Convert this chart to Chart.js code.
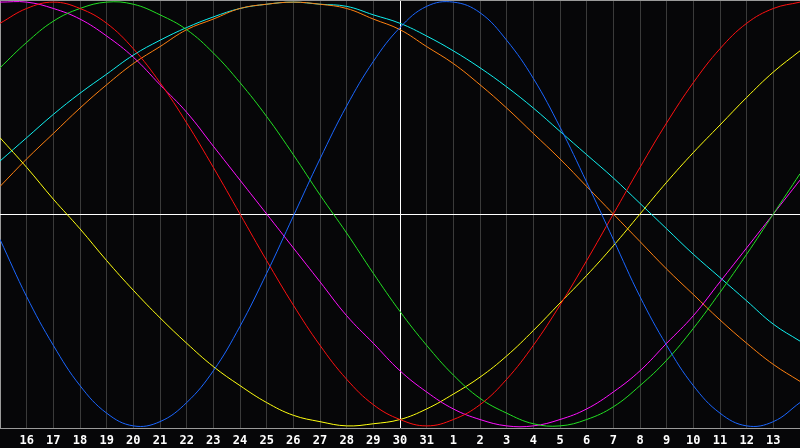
<!DOCTYPE html>
<html>
<head>
<meta charset="utf-8">
<script src="https://cdn.jsdelivr.net/npm/chart.js@4/dist/chart.umd.min.js"></script>
<style>
  html, body { margin: 0; padding: 0; background: #060608; }
  canvas { display: block; background: #060608; }
</style>
</head>
<body>
<canvas id="c" width="800" height="448"></canvas>
<script>
// Day labels (15th of one month to 14th of the next)
const days = ['15','16','17','18','19','20','21','22','23','24','25','26','27','28','29','30','31',
              '1','2','3','4','5','6','7','8','9','10','11','12','13','14'];

// Cycle values (percent, -100..100)
const physical = [-12,-39,-62,-81,-94,-100,-98,-89,-74,-53,-28,-1,26,51,72,88,98,100,95,82,64,41,15,-12,-39,-62,-81,-94,-100,-98,-89];
const emotional = [90,97,100,97,90,78,62,43,22,0,-22,-43,-62,-78,-90,-97,-100,-97,-90,-78,-62,-43,-22,0,22,43,62,78,90,97,100];
const intellectual = [69,81,91,97,100,99,94,87,76,62,46,28,9,-9,-28,-46,-62,-76,-87,-94,-99,-100,-97,-91,-81,-69,-54,-37,-19,0,19];
const intuitive = [100,100,97,92,84,74,61,48,32,16,0,-16,-32,-48,-61,-74,-84,-92,-97,-100,-100,-97,-92,-84,-74,-61,-48,-32,-16,0,16];
const aesthetic = [36,22,7,-7,-22,-36,-49,-61,-72,-81,-89,-95,-98,-100,-99,-97,-92,-85,-77,-67,-55,-42,-29,-15,0,15,29,42,55,67,77];
const awareness = [13,26,38,50,61,71,79,87,92,97,99,100,99,97,92,87,79,71,61,50,38,26,13,0,-13,-26,-38,-50,-61,-71,-79];
const spiritual = [25,36,47,57,66,75,82,88,93,97,99,100,99,98,94,90,84,77,69,60,50,39,28,17,5,-7,-19,-30,-41,-52,-60];

const series = [
  { data: physical,     color: '#1a66ff' },
  { data: emotional,    color: '#ff1010' },
  { data: intellectual, color: '#22e022' },
  { data: intuitive,    color: '#ff10ff' },
  { data: aesthetic,    color: '#ffff10' },
  { data: awareness,    color: '#ff8010' },
  { data: spiritual,    color: '#10f0f0' }
];

const todayIndex = days.indexOf('30');

new Chart(document.getElementById('c'), {
  type: 'line',
  data: {
    labels: days,
    datasets: series.map(s => ({
      data: s.data,
      borderColor: s.color,
      borderWidth: 1,
      pointRadius: 0,
      fill: false,
      tension: 0.4
    }))
  },
  options: {
    responsive: false,
    animation: false,
    devicePixelRatio: 1,
    layout: { padding: 0 },
    plugins: { legend: { display: false }, tooltip: { enabled: false } },
    scales: {
      x: {
        type: 'category',
        offset: false,
        afterFit: (scale) => { scale.height = 20; scale.paddingLeft = 0; scale.paddingRight = 0; },
        border: { display: true, color: '#9a9a9a', width: 1 },
        grid: {
          drawTicks: false,
          lineWidth: 1,
          color: (ctx) => ctx.index === todayIndex ? '#ffffff' : (ctx.index === 0 ? '#9a9a9a' : '#3a3a3a')
        },
        ticks: {
          autoSkip: false,
          maxRotation: 0,
          padding: 6,
          color: '#ffffff',
          font: { family: 'DejaVu Sans Mono', size: 12, weight: 'bold' },
          callback: function(value, index) {
            return (index === 0 || index === days.length - 1) ? '' : days[index];
          }
        }
      },
      y: {
        min: -101,
        max: 101,
        afterFit: (scale) => { scale.width = 0; scale.paddingTop = 0; scale.paddingBottom = 0; },
        afterBuildTicks: (scale) => { scale.ticks = [{ value: -101 }, { value: 0 }, { value: 101 }]; },
        border: { display: false },
        grid: {
          drawTicks: false,
          lineWidth: 1,
          color: (ctx) => ctx.tick && ctx.tick.value === 0 ? '#ffffff' : (ctx.tick && ctx.tick.value === 101 ? '#9a9a9a' : 'rgba(0,0,0,0)')
        },
        ticks: { display: false }
      }
    }
  }
});
</script>
</body>
</html>
